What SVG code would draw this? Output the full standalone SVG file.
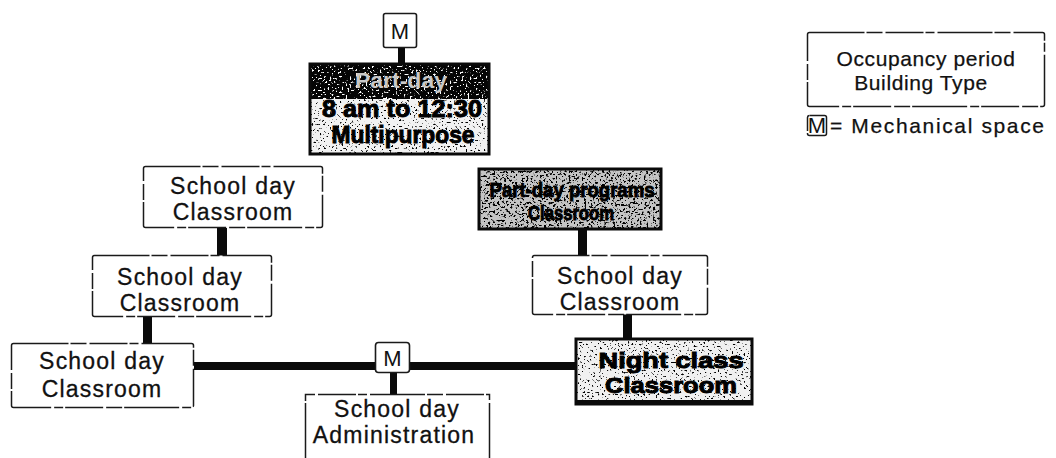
<svg xmlns="http://www.w3.org/2000/svg" width="1056" height="458" viewBox="0 0 1056 458">
  <defs>
    <style>
      .plain { fill: #ffffff; stroke: #1a1a1a; stroke-width: 1.5; stroke-dasharray: 55 2 16 3 38 2 9 3; }
      .solidbox { fill: #ffffff; stroke: #1a1a1a; stroke-width: 1.6; }
      .heavy { stroke: #0a0a0a; stroke-width: 3; fill: none; }
      .lbl { font-family: "Liberation Sans", Arial, sans-serif; font-size: 23px; fill: #111; stroke: #111; stroke-width: 0.3px; text-anchor: middle; letter-spacing: 1.2px; }
      .legend { font-family: "Liberation Sans", Arial, sans-serif; font-size: 21px; fill: #111; stroke: #111; stroke-width: 0.25px; text-anchor: middle; letter-spacing: 0.6px; }
      .mk { font-family: "Liberation Sans", Arial, sans-serif; font-size: 22px; fill: #111; text-anchor: middle; }
      .bold { font-family: "Liberation Sans Narrow", "Liberation Sans", Arial, sans-serif; font-weight: bold; fill: #000; stroke: #000; stroke-width: 0.9px; text-anchor: middle; }
      .link { fill: #0a0a0a; }
    </style>
    <!-- black speckle grain clipped to the shape it is applied to -->
    <filter id="speck" x="0" y="0" width="1" height="1" color-interpolation-filters="sRGB">
      <feTurbulence type="fractalNoise" baseFrequency="0.5" numOctaves="2" seed="7" result="n"/>
      <feColorMatrix in="n" type="matrix" values="0 0 0 0 0  0 0 0 0 0  0 0 0 0 0  -12 0 0 0 4.5" result="d"/>
      <feComposite in="d" in2="SourceAlpha" operator="in"/>
    </filter>
    <filter id="speckDense" x="0" y="0" width="1" height="1" color-interpolation-filters="sRGB">
      <feTurbulence type="fractalNoise" baseFrequency="0.45" numOctaves="2" seed="11" result="n"/>
      <feColorMatrix in="n" type="matrix" values="0 0 0 0 0  0 0 0 0 0  0 0 0 0 0  -12 0 0 0 5.3" result="d"/>
      <feComposite in="d" in2="SourceAlpha" operator="in"/>
    </filter>
    <!-- white speckle for dark bands -->
    <filter id="speckWhite" x="0" y="0" width="1" height="1" color-interpolation-filters="sRGB">
      <feTurbulence type="fractalNoise" baseFrequency="0.5" numOctaves="2" seed="4" result="n"/>
      <feColorMatrix in="n" type="matrix" values="0 0 0 0 1  0 0 0 0 1  0 0 0 0 1  -12 0 0 0 4.8" result="d"/>
      <feComposite in="d" in2="SourceAlpha" operator="in"/>
    </filter>
  </defs>

  <!-- thick connectors between spaces -->
  <g id="connectors">
    <rect class="link" x="398" y="47" width="7" height="17"/>
    <rect class="link" x="217" y="228" width="10" height="28"/>
    <rect class="link" x="143" y="316" width="9" height="28"/>
    <rect class="link" x="194" y="362" width="182" height="8"/>
    <rect class="link" x="409" y="362" width="167" height="8"/>
    <rect class="link" x="390" y="372" width="7" height="23"/>
    <rect class="link" x="578" y="229" width="9" height="27"/>
    <rect class="link" x="623" y="314" width="9" height="25"/>
  </g>

  <!-- mechanical space above the multipurpose room -->
  <g id="mech-top">
    <rect class="solidbox" x="383.5" y="13.5" width="33" height="34" rx="2"/>
    <text class="mk" x="400" y="39">M</text>
  </g>

  <!-- part-day multipurpose room -->
  <g id="multipurpose">
    <rect x="309" y="63" width="181" height="92" fill="#f2f2f2"/>
    <rect x="309" y="63" width="181" height="92" fill="#fff" filter="url(#speck)"/>
    <rect x="309" y="63" width="181" height="36" fill="#050505"/>
    <rect x="309" y="63" width="181" height="36" fill="#000" filter="url(#speckWhite)"/>
    <text class="bold" x="401" y="88" font-size="22" textLength="92" lengthAdjust="spacingAndGlyphs" style="fill:#c8c8c8;stroke:none">Part-day</text>
    <text class="bold" x="402" y="117" font-size="23" textLength="160" lengthAdjust="spacingAndGlyphs">8 am to 12:30</text>
    <text class="bold" x="403" y="143" font-size="23" textLength="143" lengthAdjust="spacingAndGlyphs">Multipurpose</text>
    <rect class="heavy" x="310" y="64" width="179" height="90"/>
  </g>

  <!-- left wing classrooms -->
  <g id="classroom-left-top">
    <rect class="plain" x="143.5" y="166.5" width="179" height="61" rx="2"/>
    <text class="lbl" x="233" y="194">School day</text>
    <text class="lbl" x="233" y="220">Classroom</text>
  </g>

  <g id="classroom-left-mid">
    <rect class="plain" x="92.5" y="255.5" width="179" height="61" rx="2"/>
    <text class="lbl" x="180" y="285">School day</text>
    <text class="lbl" x="180" y="311">Classroom</text>
  </g>

  <g id="classroom-left-bottom">
    <rect class="plain" x="11.5" y="343.5" width="182" height="64" rx="2"/>
    <text class="lbl" x="102" y="369">School day</text>
    <text class="lbl" x="102" y="397">Classroom</text>
  </g>

  <!-- central mechanical space and administration -->
  <g id="mech-center">
    <rect class="solidbox" x="375.5" y="342.5" width="34" height="30" rx="3"/>
    <text class="mk" x="392.5" y="366">M</text>
  </g>

  <g id="administration">
    <path class="plain" d="M305.5 458 V394.5 H489.5 V458"/>
    <text class="lbl" x="397" y="417">School day</text>
    <text class="lbl" x="394" y="443">Administration</text>
  </g>

  <!-- right wing classrooms -->
  <g id="partday-classroom">
    <rect x="478" y="168" width="184" height="62" fill="#c4c4c4"/>
    <rect x="478" y="168" width="184" height="62" fill="#fff" filter="url(#speckDense)"/>
    <text class="bold" x="572" y="197" font-size="19.5" textLength="165" lengthAdjust="spacingAndGlyphs">Part-day programs</text>
    <text class="bold" x="571" y="220" font-size="19.5" textLength="86" lengthAdjust="spacingAndGlyphs">Classroom</text>
    <rect class="heavy" x="479" y="169" width="182" height="60"/>
  </g>

  <g id="classroom-right-mid">
    <rect class="plain" x="532.5" y="255.5" width="175" height="59" rx="2"/>
    <text class="lbl" x="620" y="284">School day</text>
    <text class="lbl" x="620" y="310">Classroom</text>
  </g>

  <g id="nightclass-classroom">
    <rect x="575" y="338" width="178" height="67" fill="#f0f0f0"/>
    <rect x="575" y="338" width="178" height="67" fill="#fff" filter="url(#speck)"/>
    <text class="bold" x="671" y="368" font-size="22" textLength="145" lengthAdjust="spacingAndGlyphs">Night class</text>
    <text class="bold" x="671" y="393" font-size="22" textLength="132" lengthAdjust="spacingAndGlyphs">Classroom</text>
    <rect class="heavy" x="576" y="339" width="176" height="65"/>
    <rect x="575" y="400" width="178" height="5" fill="#0a0a0a"/>
  </g>

  <!-- key -->
  <g id="legend-box">
    <rect class="plain" x="807.5" y="32.5" width="237" height="74" rx="2"/>
    <text class="legend" x="926" y="66">Occupancy period</text>
    <text class="legend" x="921" y="90">Building Type</text>
  </g>

  <g id="legend-mech">
    <rect class="plain" x="807.5" y="115.5" width="19" height="20" rx="2"/>
    <text class="mk" x="817" y="133" font-size="18">M</text>
    <text x="830" y="133" font-family="Liberation Sans, Arial, sans-serif" font-size="21" fill="#111" stroke="#111" stroke-width="0.25" textLength="214" lengthAdjust="spacing">= Mechanical space</text>
  </g>
</svg>
